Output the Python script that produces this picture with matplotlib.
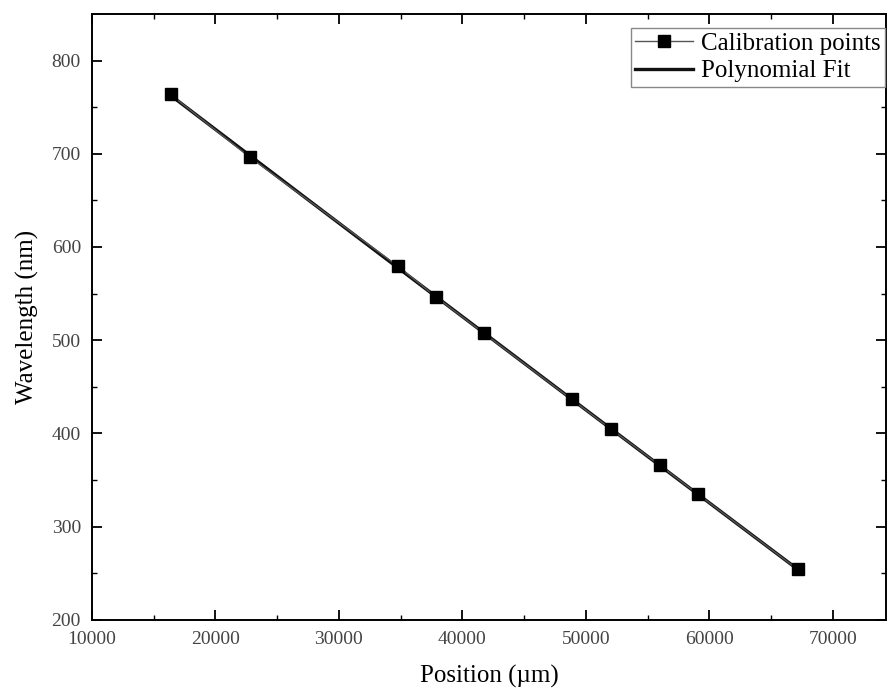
"""
Wavelength calibration: position of the grating vs. wavelength, with a polynomial fit.
"""
import numpy as np
import matplotlib.pyplot as plt

position_um = [16360, 22770, 34760, 37870, 41710, 48860, 52010, 55980, 59090, 67150]
wavelength_nm = [763.6, 696.4, 579.6, 546.4, 507.8, 436.5, 405.0, 366.0, 334.7, 254.3]

plt.rcParams.update({
    "font.family": ["Liberation Serif", "DejaVu Serif"],
    "xtick.direction": "in",
    "ytick.direction": "in",
    "xtick.top": True,
    "ytick.right": True,
    "axes.linewidth": 1.4,
})

fig = plt.figure(figsize=(8.88, 6.95), dpi=100)
ax = fig.add_axes([0.1036, 0.108, 0.894, 0.872])

coef = np.polyfit(position_um, wavelength_nm, 2)
xfit = np.linspace(min(position_um), max(position_um), 200)
ax.plot(xfit, np.polyval(coef, xfit), color="#111111", lw=2.4, label="Polynomial Fit", zorder=2)
ax.plot(position_um, wavelength_nm, ls="-", lw=1.0, color="#555555", marker="s", ms=8,
        mfc="black", mec="black", label="Calibration points", zorder=3)

ax.set_xlim(10000, 74300)
ax.set_ylim(200, 850)
ax.set_xticks(range(10000, 70001, 10000))
ax.set_xticks(range(15000, 74000, 10000), minor=True)
ax.set_yticks(range(200, 801, 100))
ax.set_yticks(range(250, 850, 100), minor=True)
ax.tick_params(which="major", length=7, width=1.3, labelsize=14, labelcolor="#444444")
ax.tick_params(axis="x", which="major", pad=8)
ax.tick_params(axis="y", which="major", pad=8)
ax.tick_params(which="minor", length=3.6, width=1.0)

ax.set_xlabel("Position (\u00b5m)", fontsize=18, labelpad=12)
ax.set_ylabel("Wavelength (nm)", fontsize=18, labelpad=9)

handles, labels = ax.get_legend_handles_labels()
leg = ax.legend(handles[::-1], labels[::-1], loc="upper right", fontsize=18, fancybox=False,
                edgecolor="#888888", framealpha=1, borderpad=0.18, handlelength=2.3,
                handletextpad=0.32, labelspacing=0.2, borderaxespad=0,
                bbox_to_anchor=(0.999, 1 - 14 / 606))
leg.get_frame().set_linewidth(1.0)

fig.savefig("out.png", dpi=100)
